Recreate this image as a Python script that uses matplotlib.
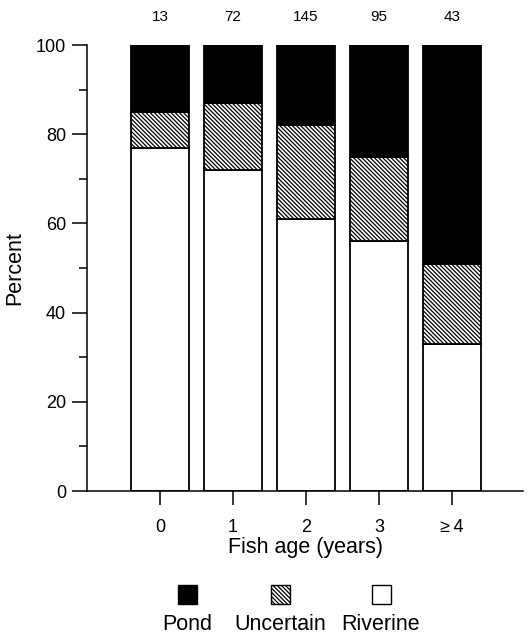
import matplotlib
matplotlib.use('Agg')
import matplotlib.pyplot as plt
from matplotlib.patches import Rectangle
import numpy as np

plt.rcParams['font.family'] = ['Liberation Sans', 'DejaVu Sans']
plt.rcParams['hatch.linewidth'] = 0.9

#------------------------------DATA------------------------------
ages = ['0', '1', '2', '3', '\u2265\u20094']
counts = [13, 72, 145, 95, 43]
riverine = [77, 72, 61, 56, 33]
uncertain = [8, 15, 21, 19, 18]
pond = [15, 13, 18, 25, 49]

series_names = ['Pond', 'Uncertain', 'Riverine']
series_colors = ['black', 'white', 'white']
series_hatch = [None, '\\' * 8, None]

#------------------------------FIGURE-------------------------------------------------
fig = plt.figure(figsize=(5.32, 6.36), dpi=100)
ax = fig.add_axes([87/532, 1 - 491/636, (523 - 87)/532, (491 - 45)/636])

x = np.arange(len(ages))
w = 0.8
lw = 1.3

# stacked bars: riverine at bottom, uncertain in the middle, pond on top
ax.bar(x, riverine, width=w, color='white', edgecolor='black', linewidth=lw)
ax.bar(x, uncertain, width=w, bottom=riverine, color='white', edgecolor='black',
       linewidth=lw, hatch=series_hatch[1])
bottom2 = np.array(riverine) + np.array(uncertain)
ax.bar(x, pond, width=w, bottom=bottom2, color='black', edgecolor='black', linewidth=lw)

# sample sizes above the bars
for xi, n in zip(x, counts):
    ax.annotate(str(n), xy=(xi, 100), xytext=(0, 20), textcoords='offset points',
                ha='center', va='center', fontsize=11, annotation_clip=False)

ax.set_xlim(-1, 4.97)
ax.set_ylim(0, 100)
ax.spines['top'].set_visible(False)
ax.spines['right'].set_visible(False)
ax.spines['left'].set_linewidth(1.1)
ax.spines['bottom'].set_linewidth(1.1)

ax.set_xticks(x)
ax.set_xticklabels(ages)
ax.set_yticks(np.arange(0, 101, 20))
ax.set_yticks(np.arange(10, 100, 20), minor=True)
ax.tick_params(axis='y', which='major', direction='out', length=11, width=1.1,
               labelsize=13, pad=4)
ax.tick_params(axis='y', which='minor', direction='out', length=5.5, width=1.1)
ax.tick_params(axis='x', which='major', direction='out', length=10, width=1.1,
               labelsize=13, pad=10)

ax.set_xlabel('Fish age (years)', fontsize=15.5, labelpad=1)
ax.set_ylabel('Percent', fontsize=15.5, labelpad=8)

#------------------------------LEGEND (labels under the boxes)-------------------------
leg_x = [187, 280, 381]
box = 19
for cx, name, col, h in zip(leg_x, series_names, series_colors, series_hatch):
    r = Rectangle(((cx - box/2)/532, 1 - (594 + box/2)/636), box/532, box/636,
                  transform=fig.transFigure, facecolor=col, edgecolor='black',
                  linewidth=1.0, hatch=h)
    fig.patches.append(r)
    fig.text(cx/532, 1 - 625/636, name, ha='center', va='center', fontsize=15.5)

fig.savefig('out.png', dpi=100)
